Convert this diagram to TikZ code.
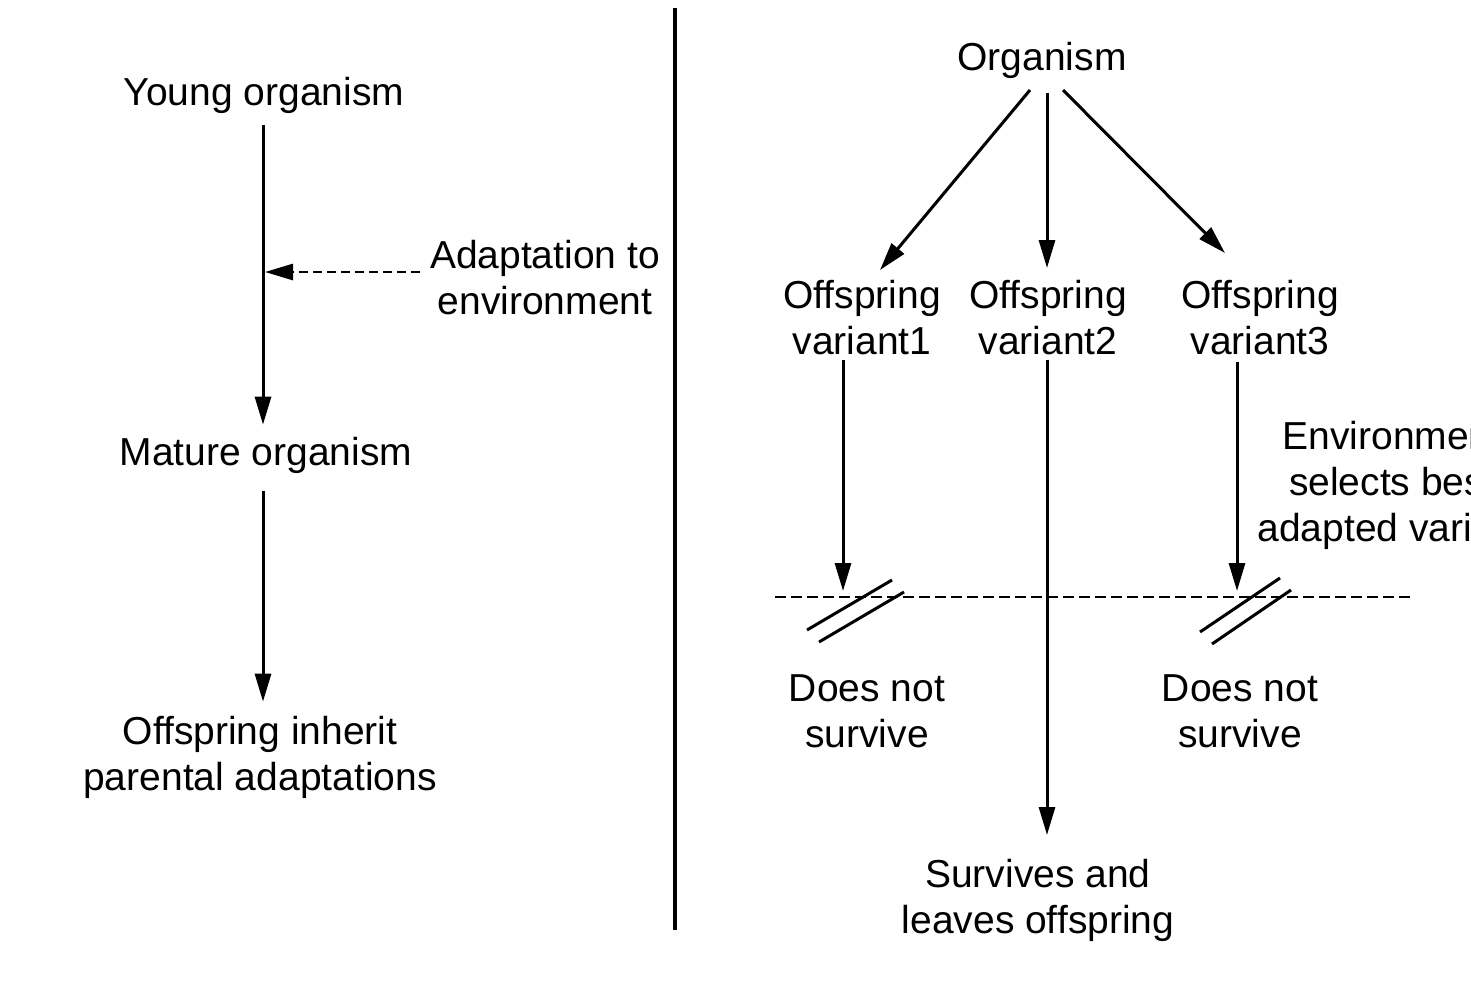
\documentclass[tikz,border=0pt]{standalone}
\usepackage{fontspec}
\setmainfont{Liberation Sans}
\usetikzlibrary{arrows.meta}
\begin{document}
\begin{tikzpicture}[x=1pt,y=-1pt,
  lbl/.style={inner sep=0pt,align=center,font=\fontsize{39}{46}\selectfont},
  arr/.style={line width=3pt,-{Triangle[length=28pt,width=16pt]}},
  dasharr/.style={line width=2.8pt,dash pattern=on 9pt off 5pt,-{Triangle[length=28pt,width=16pt]}},
  cutline/.style={line width=2.8pt,dash pattern=on 11pt off 5pt},
  slash/.style={line width=3pt},
  divider/.style={line width=3.4pt}]
\clip (0,0) rectangle (1471,986);
\fill[white] (0,0) rectangle (1471,986);
% left column
\node[lbl] (young) at (264,95) {Young organism};
\node[lbl] (mature) at (266,455) {Mature organism};
\node[lbl] (inherit) at (260,757) {Offspring inherit\\parental adaptations};
\node[lbl] (adapt) at (545,278) {Adaptation to\\environment};
\coordinate (hit) at (265,272);
\draw[arr,shorten <=12pt,shorten >=12pt] (young.south -| 263,0) -- (mature.north -| 263,0);
\draw[arr,shorten <=18pt,shorten >=14pt] (mature.south -| 263,0) -- (inherit.north -| 263,0);
\draw[dasharr] ([xshift=-10pt]adapt.west |- hit) -- (hit);
% divider
\coordinate (dtop) at (675,8);
\coordinate (dbot) at (675,930);
\draw[divider] (dtop) -- (dbot);
% right column
\node[lbl] (org) at (1042,60) {Organism};
\node[lbl] (v1) at (862,318) {Offspring\\variant1};
\node[lbl] (v2) at (1048,318) {Offspring\\variant2};
\node[lbl] (v3) at (1260,318) {Offspring\\variant3};
\node[lbl] (env) at (1392,485) {Environment\\selects best\\adapted variant};
\node[lbl] (dead1) at (867,711) {Does not\\survive};
\node[lbl] (dead3) at (1240,711) {Does not\\survive};
\node[lbl] (surv) at (1038,900) {Survives and\\leaves offspring};
\coordinate (o1) at (1030,90);
\coordinate (o2) at (1047,93);
\coordinate (o3) at (1063,90);
\coordinate (t1) at (880,270);
\coordinate (t2) at (1047,268);
\coordinate (t3) at (1225,253);
\draw[arr] (o1) -- (t1);
\draw[arr] (o2) -- (t2);
\draw[arr] (o3) -- (t3);
\coordinate (cut1) at (843,591);
\coordinate (cut3) at (1237,591);
\coordinate (s2) at (1047,835);
\draw[arr] (v1.south -| cut1) ++(0,4) -- (cut1);
\draw[arr] (v3.south -| cut3) ++(0,6) -- (cut3);
\draw[arr] (v2.south -| s2) ++(0,4) -- (s2);
% environment cut line
\coordinate (dl) at (775,597);
\coordinate (dr) at (1415,597);
\draw[cutline] (dl) -- (dr);
% slashes
\draw[slash] (807,630) -- (892,580);
\draw[slash] (819,642) -- (904,592);
\draw[slash] (1200,632) -- (1280,578);
\draw[slash] (1212,644) -- (1291,590);
\end{tikzpicture}
\end{document}
